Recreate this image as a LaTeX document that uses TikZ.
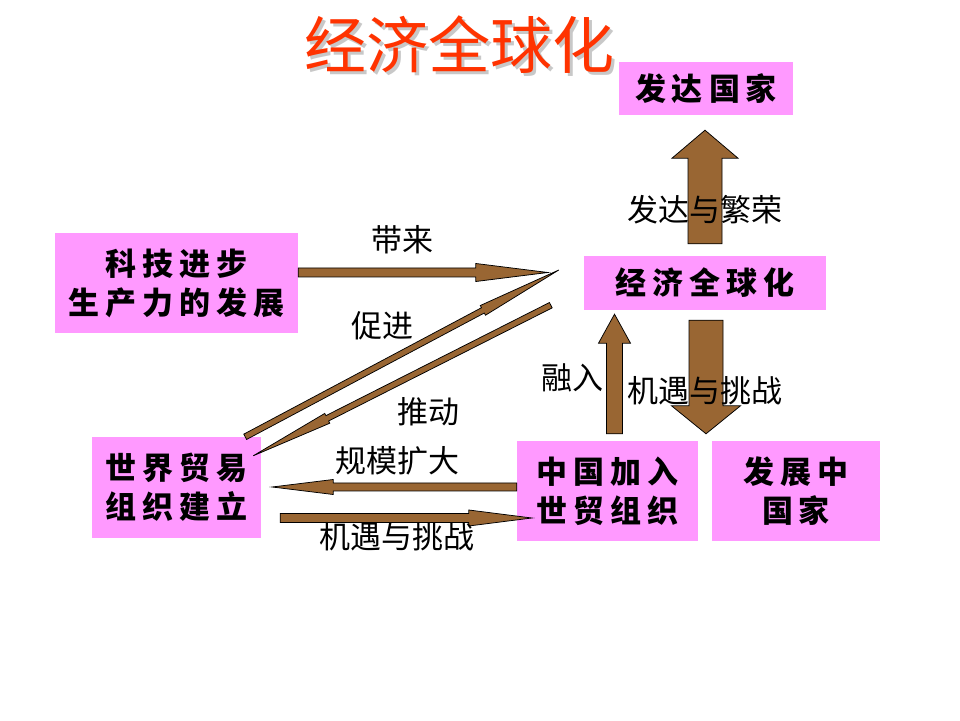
\documentclass[tikz,border=0pt]{standalone}
\usepackage{fontspec}
\setmainfont{Noto Sans CJK SC}
\usetikzlibrary{calc}

\definecolor{boxpink}{HTML}{FF99FF}
\definecolor{arrowbrown}{HTML}{996633}
\definecolor{titlered}{HTML}{FF3300}
\definecolor{shadowgray}{HTML}{C8C8C8}

\newcommand\cgap{\hspace{6pt}}
\newcommand\boxfont{\bfseries\fontsize{31}{39}\selectfont}
% wide arrow: start, tip, half shaft, half head, head length
\newcommand\fatarrow[5]{%
  \coordinate (hb) at ($(#2)!#5!(#1)$);
  \draw[brownarrow] ($(#1)!#3!90:(#2)$) -- ($(hb)!#3!-90:(#1)$)
    -- ($(hb)!#4!-90:(#1)$) -- (#2) -- ($(hb)!#4!90:(#1)$)
    -- ($(hb)!#3!90:(#1)$) -- ($(#1)!#3!-90:(#2)$) -- cycle;}

\begin{document}
\begin{tikzpicture}[x=1pt, y=1pt,
    box/.style={fill=boxpink, inner sep=0pt, align=center, font=\boxfont},
    lbl/.style={inner sep=0pt, font=\fontsize{31}{31}\selectfont},
    brownarrow/.style={fill=arrowbrown, draw=black, line width=0.75pt, line join=miter},
    titletext/.style={inner sep=0pt, font=\fontsize{62}{62}\selectfont}]
  \fill[white] (0,0) rectangle (960,720);
  \useasboundingbox (0,0) rectangle (960,720);

  % boxes
  \node[box, minimum width=174pt, minimum height=53pt] (dev) at (706,631.5)
    {发\cgap 达\cgap 国\cgap 家};
  \node[box, minimum width=242pt, minimum height=54pt] (glob) at (705,437)
    {经\cgap 济\cgap 全\cgap 球\cgap 化};
  \node[box, minimum width=243pt, minimum height=100pt] (tech) at (176.5,437)
    {科\cgap 技\cgap 进\cgap 步\\ 生\cgap 产\cgap 力\cgap 的\cgap 发\cgap 展};
  \node[box, minimum width=169pt, minimum height=101pt] (wto) at (176.5,232.5)
    {世\cgap 界\cgap 贸\cgap 易\\ 组\cgap 织\cgap 建\cgap 立};
  \node[box, minimum width=181pt, minimum height=100pt] (china) at (607.5,229)
    {中\cgap 国\cgap 加\cgap 入\\ 世\cgap 贸\cgap 组\cgap 织};
  \node[box, minimum width=168pt, minimum height=100pt] (devg) at (796,229)
    {发\cgap 展\cgap 中\\ 国\cgap 家};

  % arrow ends
  \coordinate (up-s) at ($(glob.north)+(0,12)$);
  \coordinate (up-t) at ($(glob.north |- dev.south)+(0,-15)$);
  \coordinate (dn-s) at ($(glob.south)+(1,-10)$);
  \coordinate (dn-t) at ($(glob.south |- devg.north)+(1,7)$);
  \coordinate (in-s) at ($(china.north)+(7,7)$);
  \coordinate (in-t) at ($(china.north |- glob.south)+(7,-4)$);
  \coordinate (br-s) at ($(tech.east)+(0,10.5)$);
  \coordinate (br-t) at ($(glob.west)+(-36,10.5)$);
  \coordinate (pr-s) at ($(wto.north east)+(-16,0)$);
  \coordinate (pr-t) at ($(glob.west)+(-25,13)$);
  \coordinate (pu-s) at ($(glob.south west)+(-33,5)$);
  \coordinate (pu-t) at ($(wto.north east)+(-8,-19)$);
  \coordinate (sc-s) at ($(china.west)+(0,4)$);
  \coordinate (sc-t) at ($(wto.east)+(11,0.5)$);
  \coordinate (op-s) at ($(wto.east)+(19,-30.5)$);
  \coordinate (op-t) at ($(china.west)+(15,-27)$);

  % arrows
  \fatarrow{up-s}{up-t}{17pt}{33pt}{28pt}
  \fatarrow{dn-s}{dn-t}{17pt}{34.5pt}{28pt}
  \fatarrow{in-s}{in-t}{8pt}{16pt}{29pt}
  \fatarrow{br-s}{br-t}{4.5pt}{9pt}{72pt}
  \fatarrow{pr-s}{pr-t}{3pt}{5.5pt}{86pt}
  \fatarrow{pu-s}{pu-t}{3pt}{5.5pt}{83pt}
  \fatarrow{sc-s}{sc-t}{4pt}{7.5pt}{61pt}
  \fatarrow{op-s}{op-t}{4.5pt}{8pt}{63pt}

  % labels
  \node[lbl] (l-bring) at (402,480) {带来};
  \node[lbl] (l-promote) at (382,394) {促进};
  \node[lbl] (l-push) at (428,308) {推动};
  \node[lbl] (l-scale) at (397,259) {规模扩大};
  \node[lbl] (l-chance) at (397,183) {机遇与挑战};
  \node[lbl] (l-join) at (572,342) {融入};
  \node[lbl] (l-chance2) at (705,329) {机遇与挑战};
  \node[lbl] (l-prosper) at (705,510) {发达与繁荣};

  % title
  \node[titletext, text=shadowgray] (titleshadow) at (462,672) {经济全球化};
  \node[titletext, text=titlered] (title) at (459,675) {经济全球化};
\end{tikzpicture}
\end{document}
